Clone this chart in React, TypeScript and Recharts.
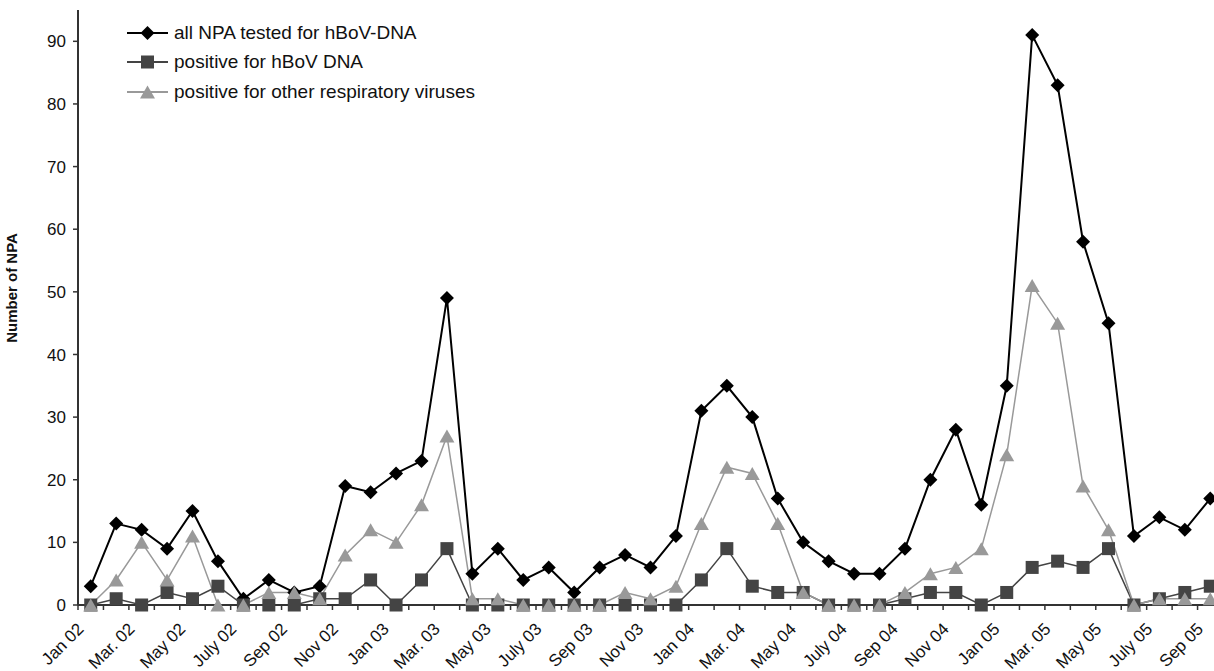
import React from "react";
import { LineChart, Line, XAxis, YAxis } from "recharts";

const months = [
  "Jan 02", "Feb 02", "Mar. 02", "Apr 02", "May 02", "June 02", "July 02", "Aug 02", "Sep 02", "Oct 02", "Nov 02", "Dec 02",
  "Jan 03", "Feb 03", "Mar. 03", "Apr 03", "May 03", "June 03", "July 03", "Aug 03", "Sep 03", "Oct 03", "Nov 03", "Dec 03",
  "Jan 04", "Feb 04", "Mar. 04", "Apr 04", "May 04", "June 04", "July 04", "Aug 04", "Sep 04", "Oct 04", "Nov 04", "Dec 04",
  "Jan 05", "Feb 05", "Mar. 05", "Apr 05", "May 05", "June 05", "July 05", "Aug 05", "Sep 05",
];

const allTested = [
  3, 13, 12, 9, 15, 7, 1, 4, 2, 3, 19, 18,
  21, 23, 49, 5, 9, 4, 6, 2, 6, 8, 6, 11,
  31, 35, 30, 17, 10, 7, 5, 5, 9, 20, 28, 16,
  35, 91, 83, 58, 45, 11, 14, 12, 17,
];

const hbovPositive = [
  0, 1, 0, 2, 1, 3, 0, 0, 0, 1, 1, 4,
  0, 4, 9, 0, 0, 0, 0, 0, 0, 0, 0, 0,
  4, 9, 3, 2, 2, 0, 0, 0, 1, 2, 2, 0,
  2, 6, 7, 6, 9, 0, 1, 2, 3,
];

const otherViruses = [
  0, 4, 10, 4, 11, 0, 0, 2, 2, 1, 8, 12,
  10, 16, 27, 1, 1, 0, 0, 0, 0, 2, 1, 3,
  13, 22, 21, 13, 2, 0, 0, 0, 2, 5, 6, 9,
  24, 51, 45, 19, 12, 0, 1, 1, 1,
];

const yTicks = [0, 10, 20, 30, 40, 50, 60, 70, 80, 90];

const data = months.map((m, i) => ({
  month: m,
  all: allTested[i],
  hbov: hbovPositive[i],
  other: otherViruses[i],
}));

const FONT = '"Liberation Sans", Arial, Helvetica, sans-serif';
const HALF_BAND = 12.72;

const Diamond = (props: any) => {
  const { cx, cy, fill } = props;
  if (cx == null || cy == null) return null;
  const r = 7;
  return <polygon points={`${cx},${cy - r} ${cx + r},${cy} ${cx},${cy + r} ${cx - r},${cy}`} fill={fill} />;
};

const Square = (props: any) => {
  const { cx, cy, fill } = props;
  if (cx == null || cy == null) return null;
  const r = 6.5;
  return <rect x={cx - r} y={cy - r} width={2 * r} height={2 * r} fill={fill} />;
};

const Triangle = (props: any) => {
  const { cx, cy, fill } = props;
  if (cx == null || cy == null) return null;
  const w = 7.5, h = 6.5;
  return <polygon points={`${cx},${cy - h} ${cx + w},${cy + h} ${cx - w},${cy + h}`} fill={fill} />;
};

const XTick = (props: any) => {
  const { x, y, payload, index } = props;
  const ax = x - 6;
  const ay = y + 20;
  return (
    <g>
      <line x1={x - HALF_BAND} x2={x - HALF_BAND} y1={y - 5} y2={y} stroke="#333" strokeWidth={1.5} />
      {index % 2 === 0 && (
        <text x={ax} y={ay} transform={`rotate(-45 ${ax} ${ay})`} textAnchor="end" fontSize={17} fill="#111" fontFamily={FONT}>
          {payload.value}
        </text>
      )}
    </g>
  );
};

const legendItems = [
  { label: "all NPA tested for hBoV-DNA", color: "#000", Marker: Diamond },
  { label: "positive for hBoV DNA", color: "#444", Marker: Square },
  { label: "positive for other respiratory viruses", color: "#999", Marker: Triangle },
];

// legend sits inside the plot, top left, so it is drawn as an overlay
const LegendBox = () => (
  <div style={{ position: "absolute", left: 127, top: 18, fontFamily: FONT }}>
    {legendItems.map(({ label, color, Marker }) => (
      <div key={label} style={{ display: "flex", alignItems: "center", height: 29.5 }}>
        <svg width={44} height={20}>
          <line x1={0} x2={41} y1={10} y2={10} stroke={color} strokeWidth={2} />
          <Marker cx={20.5} cy={10} fill={color} />
        </svg>
        <span style={{ fontSize: 19, color: "#111", marginLeft: 3, whiteSpace: "nowrap" }}>{label}</span>
      </div>
    ))}
  </div>
);

const YLabel = () => (
  <text x={17} y={288} transform="rotate(-90 17 288)" textAnchor="middle" fontSize={15} fontWeight="bold" fill="#111" fontFamily={FONT}>
    Number of NPA
  </text>
);

export default function App() {
  return (
    <div style={{ position: "absolute", left: 0, top: 0, width: 1214, height: 671, overflow: "hidden", background: "#fff" }}>
      <LineChart width={1235} height={671} data={data} margin={{ top: 10, right: 12, bottom: 6, left: 8 }}>
        <XAxis
          dataKey="month"
          interval={0}
          padding={{ left: HALF_BAND, right: HALF_BAND }}
          tick={<XTick />}
          tickLine={false}
          tickSize={5}
          tickMargin={0}
          height={60}
          axisLine={{ stroke: "#333", strokeWidth: 2 }}
        />
        <YAxis
          domain={[0, 95]}
          ticks={yTicks}
          width={70}
          tickSize={5}
          tickMargin={7}
          axisLine={{ stroke: "#333", strokeWidth: 2 }}
          tickLine={{ stroke: "#333", strokeWidth: 1.5 }}
          tick={{ fontSize: 17, fill: "#111", fontFamily: FONT }}
          label={<YLabel />}
        />
        <Line dataKey="all" stroke="#000" strokeWidth={2} dot={<Diamond fill="#000" />} isAnimationActive={false} />
        <Line dataKey="hbov" stroke="#444" strokeWidth={1.5} dot={<Square fill="#444" />} isAnimationActive={false} />
        <Line dataKey="other" stroke="#999" strokeWidth={1.5} dot={<Triangle fill="#999" />} isAnimationActive={false} />
      </LineChart>
      <LegendBox />
    </div>
  );
}
